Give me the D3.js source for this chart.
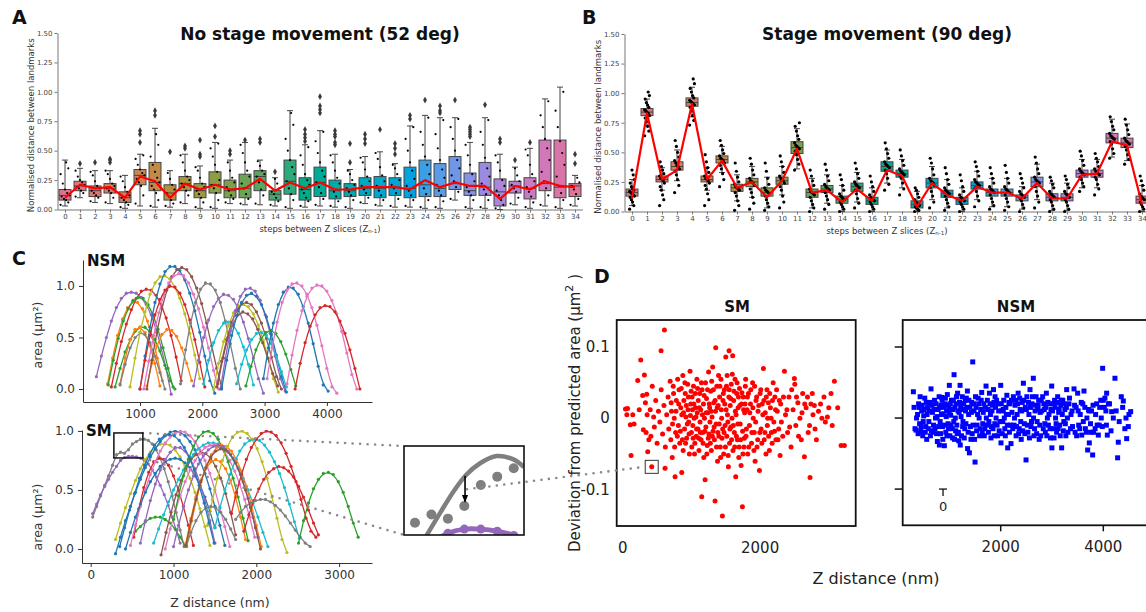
<!DOCTYPE html>
<html>
<head>
<meta charset="utf-8">
<script src="https://cdn.jsdelivr.net/npm/d3@7"></script>
<style>
  body { margin: 0; background: #fff; }
  svg { display: block; }
  text { font-family: "DejaVu Sans", sans-serif; }
</style>
</head>
<body>
<svg width="1146" height="612"></svg>
<script>
// ---------------- data ----------------
const steps = ['0','1','2','3','4','5','6','7','8','9','10','11','12','13','14','15','16','17',
  '18','19','20','21','22','23','24','25','26','27','28','29','30','31','32','33','34']
const yTicksAB = [0, 0.25, 0.5, 0.75, 1, 1.25, 1.5]

// A: [low whisker, q1, median, q3, high whisker]
const boxesA = [
  [.03,.08,.12,.17,.42],[.10,.16,.20,.24,.35],[.06,.11,.16,.20,.33],[.05,.14,.18,.22,.33],
  [.01,.06,.10,.15,.29],[.03,.21,.29,.34,.47],[.02,.16,.23,.40,.69],[.02,.08,.14,.21,.33],
  [.05,.16,.22,.28,.47],[.01,.10,.16,.22,.37],[.01,.14,.21,.32,.57],[.05,.10,.16,.25,.42],
  [.04,.10,.18,.30,.57],[.04,.16,.28,.33,.42],[.03,.08,.13,.16,.27],[.01,.13,.24,.42,.84],
  [.02,.08,.17,.27,.55],[.03,.11,.23,.36,.67],[.02,.09,.16,.25,.47],[.01,.11,.16,.22,.34],
  [.05,.12,.18,.27,.45],[.03,.10,.18,.28,.49],[.02,.12,.19,.27,.39],[.02,.10,.18,.36,.71],
  [.01,.11,.21,.42,.80],[.01,.11,.18,.39,.78],[.08,.17,.22,.45,.78],[.01,.12,.16,.31,.57],
  [.01,.12,.19,.40,.78],[.00,.03,.15,.26,.47],[.04,.14,.20,.24,.36],[.01,.09,.18,.27,.52],
  [.03,.16,.22,.59,.94],[.01,.10,.19,.59,1.04],[.03,.11,.20,.22,.29]
]
const meansA = [.10,.21,.18,.19,.10,.28,.24,.10,.22,.17,.21,.17,.18,.26,.16,.23,.18,.23,.17,.17,
  .19,.19,.19,.17,.25,.19,.23,.20,.20,.09,.20,.17,.24,.20,.19]
const fliersA = [[],[.39],[.40],[.43,.42,.40],[],[.67,.64,.57],[.84,.80],[.49],[.54,.52],[.59,.47,.45],
  [.71,.62],[.50,.47],[.59],[.60,.57],[.32],[],[.68,.64,.61,.58],[.96,.88,.85,.82],[.67,.64,.62,.57,.55],
  [.56,.40],[.64,.60,.56],[.68],[.56,.52,.47],[.80,.77],[.93],[.88,.84,.82],[.93],[.70,.68,.66,.64,.62],
  [.89],[.60,.57],[.42],[.57],[],[],[.47,.39]]
// A: individual measurements, x100
const stripA = [
  [4,6,8,9,11,12,14,17,22,30,35,40],[11,14,16,18,19,21,23,25,28,33],[7,10,12,14,16,18,20,24,29,32],
  [6,10,14,16,18,20,22,26,30,33],[2,4,6,8,10,12,15,19,24,28],[5,12,20,23,26,29,31,34,38,43,46],
  [3,8,14,17,20,23,27,32,38,45,55,64],[3,5,8,11,14,17,21,26,31],[6,12,16,19,22,25,28,33,40,46],
  [2,6,10,13,16,19,22,27,33,36],[2,8,14,18,21,25,32,38,45,52,56],[6,9,12,16,19,23,27,33,40],
  [5,9,13,18,22,28,33,40,48,55],[5,12,17,23,28,30,33,37,41],[4,7,10,13,15,18,22,26],
  [2,8,13,18,24,30,36,42,50,60,72,82],[3,7,10,14,17,21,25,30,38,46,53],[4,9,14,19,23,28,33,40,48,58,66],
  [3,7,11,15,18,22,27,33,40,46],[2,8,12,15,18,21,25,30,33],[6,10,14,17,20,24,28,34,40,44],
  [4,8,12,16,20,24,29,36,43,48],[3,9,14,18,21,25,30,35,38],[3,8,12,16,20,26,33,40,50,60,70],
  [2,8,13,18,23,30,38,45,55,66,78],[2,7,12,16,21,27,34,42,52,64,76],[9,15,19,24,29,35,42,50,60,70,77],
  [2,8,12,15,19,24,30,38,46,55],[2,8,13,17,22,28,35,44,55,66,76],[1,4,8,12,16,20,25,33,40,46],
  [5,10,15,18,21,24,29,35],[2,6,11,15,19,24,30,38,46,51],[4,12,18,24,32,42,52,60,70,80,92],
  [2,8,14,20,28,38,48,58,70,84,100],[4,9,13,17,20,23,27]
]

// B
const boxesB = [
  [.05,.13,.16,.19,.27],[.73,.81,.84,.87,.95],[.18,.25,.27,.30,.37],[.26,.35,.38,.42,.52],
  [.80,.89,.92,.96,1.05],[.18,.25,.27,.30,.37],[.33,.41,.44,.47,.55],[.09,.17,.20,.23,.31],
  [.12,.21,.25,.28,.38],[.03,.13,.16,.20,.29],[.14,.23,.26,.29,.38],[.36,.49,.54,.59,.70],
  [.03,.12,.16,.19,.28],[.07,.16,.19,.22,.31],[.00,.07,.10,.13,.22],[.08,.17,.21,.24,.33],
  [.00,.06,.09,.12,.20],[.24,.34,.38,.42,.52],[.20,.29,.32,.35,.44],[.00,.03,.06,.09,.17],
  [.10,.20,.24,.28,.38],[.03,.12,.15,.18,.27],[.00,.06,.09,.12,.20],[.10,.19,.22,.25,.34],
  [.04,.13,.16,.19,.28],[.04,.13,.16,.19,.28],[.02,.09,.12,.14,.21],[.10,.21,.25,.29,.40],
  [.01,.09,.12,.15,.24],[.01,.09,.12,.15,.24],[.20,.29,.32,.35,.44],[.20,.29,.32,.35,.44],
  [.46,.58,.62,.66,.78],[.43,.54,.58,.62,.74],[.00,.07,.10,.13,.22]
]
const meansB = [.11,.83,.27,.35,.91,.27,.43,.20,.25,.12,.26,.53,.16,.18,.08,.19,.09,.35,.30,.04,
  .24,.14,.09,.21,.16,.16,.11,.24,.11,.11,.31,.32,.59,.56,.06]
const stripB = [
  [2,5,8,10,12,13,14,15,16,17,18,19,21,24,27,31,35],[64,68,72,76,79,81,83,84,85,86,88,90,92,95,98,101],
  [5,10,14,18,21,24,26,27,28,30,32,35,38,42],[16,22,27,31,34,36,38,39,41,43,46,50,55,60],
  [73,77,81,85,88,90,91,92,93,94,96,98,101,104,108,112],[5,10,15,19,22,24,26,27,28,30,33,37,42,48],
  [21,27,32,36,39,41,43,44,45,47,49,52,56,60],[1,5,9,13,16,18,19,20,21,23,25,29,34,41],
  [2,7,12,16,19,22,24,25,26,28,31,35,40,45],[1,4,7,10,13,15,16,17,18,20,23,28,34,41],
  [3,8,13,18,21,24,26,27,28,30,33,38,42,47],[35,40,44,48,51,53,54,55,56,58,61,64,68,72,75],
  [0,3,6,9,12,14,15,16,17,19,22,26,30,35],[2,6,10,13,16,18,19,20,21,23,26,30,35,40],
  [0,2,4,6,8,10,11,12,13,15,18,22,27,31],[3,7,11,15,18,20,21,22,23,25,28,32,36,41],
  [0,2,4,6,8,9,10,11,12,14,17,21,25,30],[18,23,28,32,35,37,38,39,40,42,45,49,53,58],
  [14,19,24,28,30,31,32,33,34,36,39,43,47,52],[0,1,2,3,4,5,6,7,8,10,12,15,18,20],
  [3,8,13,17,20,22,24,25,26,28,31,36,41,45],[1,4,7,10,13,15,16,17,18,20,23,27,32,37],
  [0,2,4,6,8,9,10,11,12,14,17,21,26,31],[4,9,13,17,20,22,23,24,25,27,30,34,38,42],
  [2,5,8,11,14,16,17,18,19,21,24,28,32,37],[1,4,8,11,14,16,17,18,19,21,24,28,33,39],
  [0,3,6,9,11,12,13,14,15,17,20,24,28,32],[3,8,13,17,21,24,25,26,27,29,32,36,41,46],
  [0,2,5,8,10,12,13,14,15,17,20,23,26,29],[0,2,5,8,10,12,13,14,15,17,20,23,27,30],
  [17,21,24,27,29,31,32,33,34,36,39,43,47,51],[14,19,23,27,29,31,32,33,34,36,38,42,45,49],
  [45,49,53,57,59,61,62,63,64,66,69,72,76,80],[40,44,48,52,55,57,58,59,60,62,65,69,73,78],
  [0,2,4,6,8,10,11,12,13,15,18,22,26,30]
]

// C: [tab10 colour index, first z (nm), z step (nm), area x100]
const nsmCurves = [
  [4,300,80,[12,32,50,66,79,88,93,94,93,89,82,72,58,40,20,-5]],
  [1,480,80,[5,30,52,68,79,85,84,78,66,50,30,8]],
  [3,540,80,[2,25,46,63,77,88,95,97,96,91,82,69,52,31,8]],
  [2,490,80,[4,28,49,66,78,86,89,88,82,72,58,40,20,2]],
  [2,600,80,[2,20,36,48,56,60,60,56,48,37,23,8,0]],
  [1,680,80,[5,30,48,58,60,55,42,25,3]],
  [1,1110,80,[3,25,42,53,58,57,51,40,25,8]],
  [7,680,80,[4,24,40,50,55,53,45,32,16,0]],
  [8,840,80,[2,30,55,75,92,103,109,110,107,99,88,73,54,33,10]],
  [0,1000,80,[0,32,60,84,102,114,119,119,115,106,93,76,55,32,8,-4]],
  [5,1110,80,[0,28,55,78,96,109,116,118,116,109,98,83,64,42,20,2]],
  [6,1060,80,[0,27,52,74,91,103,110,112,110,103,92,78,60,40,18,0]],
  [3,1000,80,[0,28,52,72,87,96,100,99,93,82,67,48,26,2]],
  [7,1650,80,[5,38,64,84,97,103,102,96,84,66,44,20,0]],
  [4,1860,80,[3,28,50,67,80,88,92,91,87,78,65,49,30,10,-4]],
  [9,2020,80,[5,28,45,57,64,65,62,54,41,24,4]],
  [8,2180,80,[0,25,46,62,74,81,82,80,73,62,47,30,10,-3]],
  [5,2230,80,[2,27,48,65,76,83,84,82,75,64,49,31,12,0]],
  [5,2250,80,[5,30,50,63,72,75,73,68,58,45,30,15,3]],
  [4,2290,80,[0,30,56,76,90,97,98,95,86,72,54,32,10,-2]],
  [0,2310,80,[0,28,52,71,84,91,93,90,82,70,53,33,12,-3]],
  [9,2550,80,[5,24,38,48,54,55,52,44,32,17,2]],
  [2,2700,80,[3,22,38,49,55,57,54,46,34,19,3]],
  [0,2980,80,[10,40,64,82,94,99,98,92,80,64,44,22,4,-2]],
  [6,3040,80,[10,40,65,84,96,102,103,100,92,79,62,42,20,2,-4]],
  [6,3360,80,[5,33,57,76,90,98,101,100,95,86,73,56,35,14,0]],
  [3,3490,80,[0,25,45,61,72,79,81,80,75,66,54,38,20,0]]
]
const smCurves = [
  [7,24,48,[27,36,45,54,62,71,80,82,81,84,89,91,93,93,92,89,84,77,68,57,45,31,16,2]],
  [4,24,48,[30,38,46,53,59,65,70,75,77.5,78.5,78.5,78,77,75,72,67,61,54,46,37,27,16,5]],
  [2,540,60,[15,19,23,26,27,27,25,22,17,10,3]],
  [8,300,60,[8,22,35,47,58,68,76,82,86,89,89,88,84,78,70,60,48,34,19,3]],
  [0,300,60,[-4,10,24,36,48,59,69,78,85,91,96,99,100,99,96,91,84,75,64,51,36,20,3]],
  [3,520,60,[10,34,52,65,74,77,76,71,62,50,36,20,3]],
  [6,480,60,[3,20,36,50,63,74,83,90,95,98,100,99,96,91,84,75,64,50,35,19,2]],
  [0,420,60,[0,14,27,38,48,57,64,70,74,76,77,76,73,69,62,54,44,32,18]],
  [4,600,60,[5,24,41,55,67,76,82,86,86,83,77,68,56,41,24,5]],
  [9,760,60,[5,17,29,40,50,59,67,74,80,85,88,90,90,89,86,82,76,69,60,50,39,27,14,2]],
  [5,850,60,[-5,14,31,46,58,68,76,80,82,81,77,70,60,47,31,12]],
  [6,900,60,[0,17,32,45,57,67,75,81,86,88,88,86,82,75,66,55,42,27,10]],
  [2,1000,60,[25,45,62,76,87,95,99,100,98,93,85,74,60,44,26,7]],
  [1,1160,60,[2,24,43,59,71,80,86,88,87,83,76,66,53,38,20,2]],
  [1,1150,60,[5,26,44,58,68,74,76,74,68,58,44,27,8]],
  [8,1410,60,[20,42,60,75,87,95,99,100,98,93,85,74,60,44,26,8,-3]],
  [9,1500,60,[18,35,50,63,74,83,89,92,93,92,88,82,74,64,52,38,23,9]],
  [3,1700,60,[30,48,63,76,86,93,98,100,99,96,90,81,70,57,42,26,15,10]],
  [3,1850,60,[15,29,41,51,59,65,68,70,69,66,61,53,44,33,22,12]],
  [7,1750,60,[25,31,36,39,41,42,42,40,37,33,28,22,16,10,5,2]],
  [7,1150,60,[2,14,24,31,35,36,35,31,25,17,8]],
  [2,2510,60,[5,24,39,51,59,64,65,63,57,48,36,22,10]],
  [4,1000,60,[2,20,36,50,62,72,79,84,87,88,87,83,77,68,57,43,27,10]],
  [0,350,60,[2,18,33,47,60,71,80,88,93,96,97,96,92,86,78,67,54,39,22,5]],
  [5,1150,60,[3,24,42,57,69,78,83,85,84,80,73,63,50,35,18,0]]
]
const nsmZTicks = [1000, 2000, 3000, 4000]
const smZTicks = [0, 1000, 2000, 3000]
const areaTicks = [0, 0.5, 1]
// zoomed window of the SM plot (z nm, area) and what the inset shows
const zoomZ = [280, 630]
const zoomArea = [0.771, 0.983]
const insetFit = [[346,.770],[385,.823],[424,.874],[461,.914],[502,.942],[550,.959],[599,.951],[630,.933]]
const insetArrow = [458, 0.912, 0.850]

// D: [z nm, deviation um2]
const smDev = [
  [40,.013],[60,.005],[70,.014],[110,-.009],[121,-.052],[146,.005],[165,-.008],[218,.053],[262,.082],
  [240,.012],[290,.032],[300,-.016],[315,.061],[330,.022],[340,-.02],[349,.034],[355,.005],[364,-.047],
  [380,-.03],[400,.012],[410,-.025],[422,-.068],[430,.045],[450,.002],[460,-.012],[480,.025],[500,-.035],
  [520,.01],[540,-.005],[558,.095],[560,.04],[580,-.022],[600,.018],[607,.124],[616,-.07],[620,-.04],
  [640,.005],[660,.03],[670,-.015],[690,.052],[700,-.03],[710,.01],[720,-.055],[740,.035],[750,0],
  [762,-.082],[770,-.02],[780,.025],[800,.055],[810,-.01],[820,.04],[830,-.035],[845,.015],[859,-.076],
  [860,.005],[875,.06],[880,-.045],[890,.025],[900,-.015],[910,.035],[920,.002],[930,-.028],[945,.048],
  [950,.012],[960,-.005],[970,-.05],[980,.066],[990,.02],[1000,-.02],[1010,.03],[1020,-.01],[1030,.045],
  [1040,0],[1050,-.035],[1060,.015],[1070,-.025],[1080,.055],[1085,.008],[1095,-.015],[1100,.025],
  [1110,-.045],[1120,.035],[1125,-.005],[1135,.012],[1140,-.03],[1150,-.11],[1155,.04],[1165,-.02],
  [1175,.02],[1180,-.055],[1190,0],[1199,-.086],[1205,.05],[1210,-.012],[1220,.028],[1230,-.038],
  [1240,.008],[1250,.065],[1255,-.022],[1265,.015],[1270,-.005],[1280,.038],[1290,-.045],[1300,.002],
  [1310,.072],[1315,-.018],[1325,.022],[1335,-.03],[1344,-.116],[1350,.01],[1354,.099],[1360,-.008],
  [1370,.045],[1380,-.06],[1390,.018],[1400,-.025],[1410,.03],[1420,-.04],[1430,.055],[1440,0],
  [1451,-.137],[1455,-.015],[1460,.025],[1470,-.05],[1480,.04],[1490,-.01],[1500,.086],[1505,.012],
  [1515,-.025],[1520,.06],[1530,-.005],[1538,-.068],[1545,.03],[1548,.095],[1555,-.035],[1565,.018],
  [1575,-.012],[1580,.048],[1590,0],[1601,.088],[1605,-.045],[1615,.025],[1625,-.02],[1635,.055],
  [1645,-.082],[1650,.005],[1660,.035],[1670,-.03],[1680,.015],[1690,-.055],[1700,.042],[1710,-.008],
  [1723,-.066],[1730,.02],[1742,-.124],[1745,-.018],[1755,.03],[1765,-.04],[1775,.008],[1785,.045],
  [1795,-.025],[1810,.012],[1820,-.05],[1830,.035],[1845,-.01],[1860,.02],[1875,-.035],[1890,.05],
  [1900,0],[1915,-.02],[1927,-.06],[1940,.025],[1955,-.04],[1970,.01],[1990,-.073],[2000,.035],
  [2015,-.015],[2030,.02],[2048,.07],[2060,-.03],[2075,.008],[2090,.03],[2105,-.01],[2120,.022],
  [2135,-.045],[2150,.015],[2165,-.02],[2180,.025],[2200,-.005],[2215,.03],[2230,-.03],[2250,.01],
  [2270,-.015],[2291,-.052],[2300,.02],[2330,-.025],[2354,.066],[2370,.005],[2400,-.02],[2420,.03],
  [2450,-.04],[2480,.012],[2499,.056],[2505,.048],[2520,-.01],[2550,.022],[2580,0],[2600,-.03],
  [2620,.035],[2645,-.054],[2670,.015],[2700,-.02],[2727,-.083],[2740,.02],[2770,.005],[2800,-.015],
  [2850,.01],[2900,0],[2950,-.005],[3000,.015],[3033,.035],[3082,.052],[3130,.015],[3179,-.038],[3227,-.038],
  [705,.022],[725,-.008],[735,.045],[755,-.04],[775,.01],[795,-.025],[815,.02],[838,-.018],[852,.042],
  [868,-.03],[885,.008],[905,.05],[915,-.035],[925,.018],[940,-.008],[955,.03],[965,-.022],[985,.004],
  [995,.038],[1005,-.04],[1015,.012],[1025,-.028],[1035,.02],[1045,-.05],[1055,.035],[1065,.002],
  [1075,-.015],[1090,.042],[1105,-.028],[1115,.015],[1130,-.02],[1145,.05],[1160,.005],[1170,-.035],
  [1185,.032],[1195,-.018],[1215,.008],[1225,-.05],[1235,.04],[1245,-.028],[1260,.02],[1275,-.035],
  [1285,.01],[1295,.052],[1305,-.025],[1320,.04],[1330,-.012],[1345,.025],[1365,-.04],[1375,.015],
  [1385,-.02],[1395,.06],[1405,-.008],[1415,.045],[1425,-.055],[1435,.012],[1445,-.028],[1465,.035],
  [1475,-.02],[1485,.02],[1495,-.04],[1510,.045],[1525,.005],[1535,-.052],[1550,.04],[1560,-.015],
  [1570,.028],[1585,-.03],[1595,.062],[1610,-.01],[1620,.038],[1630,-.04],[1640,.01],[1655,-.025],
  [1665,.05],[1675,-.008],[1685,.03],[1695,-.04],[1705,.018],[1715,-.03],[1735,.036],[1750,-.05],
  [1760,.012],[1770,-.028],[1780,.02],[1790,.055],[1800,-.015],[1815,.03],[1835,-.04],[1850,.008],
  [1865,.04],[1880,-.02],[1895,.015],[1910,-.045],[1920,.045],[1935,-.005],[1950,.03],[1965,-.03],
  [1980,.018],[1995,-.02],[2010,.04],[2025,-.035],[2040,.005],[2055,.025],[2070,-.02],[2085,-.05],
  [2100,.04],[2110,0],[2125,-.025],[2140,.035],[2160,0],[2175,-.035],[2190,.05],[2210,-.018],
  [2225,.012],[2240,.04],[2260,-.03],[2280,.025],[2310,-.005],[2340,.03],[2390,.012],[2430,-.012],
  [2460,.04],[2530,.03],[2560,-.025],[2610,.008],[2650,.02],[2690,.03],[2720,-.01],[2760,.035],
  [2790,.018],[2820,-.03],[2880,.02],[2930,.03],[2980,.002],[3050,-.01]
]
const nsmDev = [
  [298,.037],[311,.015],[330,-.015],[350,-.017],[380,.005],[400,.02],[420,-.008],[441,-.019],[460,.01],
  [480,-.025],[500,.003],[520,.028],[540,-.012],[558,-.03],[575,.015],[600,-.005],[620,.022],[642,.041],
  [650,-.018],[670,.008],[690,-.01],[710,.025],[730,0],[750,-.022],[766,-.033],[780,.012],[800,.03],
  [805,-.038],[820,-.005],[835,.018],[850,.029],[865,-.012],[880,.006],[902,-.039],[915,.02],[930,-.02],
  [945,.01],[960,.033],[975,-.008],[990,.015],[999,.046],[1010,-.025],[1025,.004],[1040,.025],
  [1055,-.015],[1070,.012],[1091,.061],[1100,-.03],[1115,0],[1130,.02],[1145,-.01],[1160,.035],
  [1175,-.02],[1190,.008],[1208,.046],[1212,-.038],[1220,.015],[1235,-.025],[1250,.03],[1265,-.005],
  [1280,.02],[1300,-.015],[1315,.01],[1330,.028],[1351,.038],[1355,-.043],[1365,-.02],[1375,.005],
  [1390,-.049],[1400,.015],[1420,-.03],[1435,.022],[1455,.079],[1460,-.01],[1480,.01],[1500,-.062],
  [1510,.03],[1530,-.018],[1550,.005],[1570,.02],[1590,-.025],[1610,.012],[1630,.036],[1650,-.008],
  [1670,.02],[1690,-.015],[1714,.045],[1720,0],[1740,.025],[1760,-.02],[1780,.035],[1800,.005],
  [1820,-.012],[1840,.018],[1860,.04],[1875,-.025],[1890,.03],[1910,0],[1930,-.01],[1950,.02],
  [1970,-.018],[2000,.046],[2006,-.035],[2020,.01],[2040,-.005],[2060,.025],[2080,-.015],[2100,.015],
  [2120,.032],[2136,-.042],[2150,.005],[2170,-.02],[2180,.02],[2201,-.036],[2220,.008],[2247,.03],
  [2260,-.01],[2280,.018],[2300,-.025],[2320,.005],[2340,.035],[2360,-.015],[2380,.012],[2400,-.03],
  [2420,.022],[2442,.049],[2460,-.008],[2480,.015],[2494,-.059],[2510,.03],[2530,-.02],[2550,.005],
  [2571,.04],[2590,-.012],[2610,.02],[2636,.056],[2650,-.025],[2670,.01],[2690,.03],[2710,-.005],
  [2730,.018],[2750,-.03],[2770,.008],[2790,.025],[2818,.03],[2830,-.015],[2850,.012],[2870,-.02],
  [2890,.035],[2910,0],[2930,-.01],[2950,.02],[2970,-.028],[2994,.045],[2998,-.042],[3010,.01],
  [3030,-.015],[3050,.025],[3070,0],[3090,-.02],[3110,.03],[3130,.008],[3150,-.01],[3170,.018],
  [3188,-.042],[3210,.025],[3230,-.005],[3250,.012],[3270,-.025],[3286,.04],[3300,0],[3330,.02],
  [3360,-.015],[3390,.01],[3429,.041],[3450,-.02],[3470,.015],[3500,.035],[3520,-.01],[3550,.005],
  [3580,-.024],[3600,.02],[3623,.038],[3650,-.015],[3680,0],[3695,-.045],[3710,.012],[3727,-.035],
  [3750,-.008],[3770,.01],[3792,-.052],[3810,-.02],[3850,.005],[3880,-.01],[3903,-.024],[3930,.015],
  [3960,0],[3987,.07],[4000,.025],[4032,.028],[4050,.01],[4065,.035],[4078,-.024],[4100,.02],
  [4163,.009],[4195,0],[4227,.056],[4279,-.056],[4292,-.034],[4377,.015],[4390,.024],[4442,0],
  [4455,-.029],[4487,-.012],[4533,.009],
  [360,0],[390,-.022],[410,.015],[430,.03],[450,-.012],[470,.018],[490,-.005],[510,.012],[530,-.02],
  [550,.022],[565,.005],[590,-.015],[610,.01],[630,-.025],[660,.018],[680,-.02],[700,.012],[720,-.015],
  [740,.02],[760,.002],[790,-.012],[810,.015],[828,-.022],[845,.005],[858,.025],[872,-.03],[890,.015],
  [908,-.01],[922,.028],[938,.002],[952,-.025],[968,.018],[982,-.015],[995,.008],[1018,.02],[1032,-.01],
  [1048,.012],[1062,-.028],[1078,.025],[1085,-.005],[1108,.015],[1122,-.018],[1138,.03],[1152,-.022],
  [1168,.01],[1182,-.032],[1198,.022],[1228,.002],[1242,.02],[1258,-.012],[1272,.012],[1290,-.028],
  [1308,.025],[1322,-.008],[1340,.015],[1380,.025],[1410,-.012],[1428,.008],[1445,-.022],[1470,.02],
  [1490,-.03],[1520,.015],[1540,-.01],[1560,.028],[1580,0],[1600,-.015],[1620,.025],[1640,-.02],
  [1660,.008],[1680,-.025],[1700,.015],[1730,-.01],[1750,.012],[1770,-.005],[1790,.02],[1810,-.028],
  [1830,.01],[1850,-.015],[1868,.022],[1885,-.008],[1900,.015],[1920,.025],[1940,-.025],[1960,.01],
  [1985,-.005],[2012,.02],[2030,-.022],[2050,.012],[2070,0],[2090,-.025],[2110,.005],[2130,-.01],
  [2160,.022],[2190,-.01],[2210,.025],[2235,-.015],[2270,0],[2290,.025],[2310,-.012],[2330,.02],
  [2350,-.022],[2370,.028],[2390,-.005],[2410,.01],[2430,-.018],[2450,.025],[2470,-.022],[2500,.012],
  [2520,-.01],[2540,.022],[2560,-.028],[2580,.015],[2600,-.005],[2620,.03],[2640,0],[2660,-.015],
  [2680,.018],[2700,-.022],[2720,.012],[2740,.025],[2760,-.01],[2780,-.025],[2800,.01],[2840,.02],
  [2860,-.008],[2880,.015],[2900,-.025],[2920,.022],[2940,.005],[2960,-.015],[2980,.012],[3020,.02],
  [3040,-.028],[3060,.015],[3080,-.008],[3100,.022],[3120,-.015],[3140,.012],[3160,-.025],[3180,.025],
  [3200,.005],[3220,-.018],[3240,.02],[3260,-.008],[3280,.015],[3310,-.02],[3340,.028],[3370,.005],
  [3400,-.012],[3440,.018],[3480,-.025],[3510,.01],[3540,-.015],[3570,.022],[3610,-.005],[3640,.015],
  [3670,-.02],[3720,.01],[3760,-.02],[3800,.018],[3840,-.015],[3870,.02],[3920,-.01],[3950,.025],
  [3980,-.012],[4020,.015],[4060,-.01],[4120,.02],[4150,-.018],[4250,.01],[4310,-.005],[4350,.03],
  [4420,-.015],[4500,.005]
]
const devTicks = [-0.1, 0, 0.1]
const smDevZTicks = [0, 2000]
const nsmDevZTicks = [2000, 4000]
const boxedPoint = [422, -0.068]

// ---------------- drawing ----------------
const svg = d3.select('svg')
const tab10 = d3.schemeCategory10
const boxColour = i => d3.hcl(8 + i * 360 / 35, 46, 62).formatHex()

svg.append('defs').append('marker')
  .attr('id', 'arrow').attr('viewBox', '0 0 10 10').attr('refX', 9).attr('refY', 5)
  .attr('markerWidth', 5).attr('markerHeight', 5).attr('orient', 'auto')
  .append('path').attr('d', 'M0,1 L10,5 L0,9 z').attr('fill', '#000')

function panelLetter(t, x, y) {
  svg.append('text').attr('x', x).attr('y', y).text(t)
    .attr('font-family', 'Lato').attr('font-weight', 700).attr('font-size', 19).attr('fill', '#111')
}

// A / B
function boxPanel(o) {
  const x = d3.scalePoint().domain(steps).range([o.left, o.right]).padding(0.5)
  const bw = x.step() * 0.8
  const y = d3.scaleLinear().domain([0, 1.5]).range([o.bottom, o.top])
  const g = svg.append('g')

  const ax = g.append('g').attr('transform', `translate(0,${o.bottom})`)
    .call(d3.axisBottom(x).tickSize(3).tickSizeOuter(0).tickPadding(1.5))
  const ay = g.append('g').attr('transform', `translate(${o.left},0)`)
    .call(d3.axisLeft(y).tickValues(yTicksAB).tickFormat(d3.format('.2f'))
      .tickSize(3).tickSizeOuter(0).tickPadding(2))
  ;[ax, ay].forEach(a => {
    a.attr('font-size', 7).attr('font-family', 'DejaVu Sans')
    a.selectAll('text').attr('fill', '#444')
    a.selectAll('path, line').attr('stroke', '#777')
  })

  const rows = o.boxes.map((b, i) => ({ i, b, cx: x(steps[i]) }))
  const box = g.selectAll(null).data(rows).enter().append('g')
  box.append('line').attr('x1', d => d.cx).attr('x2', d => d.cx)
    .attr('y1', d => y(d.b[0])).attr('y2', d => y(d.b[4])).attr('stroke', '#444').attr('stroke-width', 1)
  box.selectAll(null).data(d => [[d.cx, d.b[0]], [d.cx, d.b[4]]]).enter().append('line')
    .attr('x1', d => d[0] - bw / 4).attr('x2', d => d[0] + bw / 4)
    .attr('y1', d => y(d[1])).attr('y2', d => y(d[1])).attr('stroke', '#444')
  box.append('rect')
    .attr('x', d => d.cx - bw / 2).attr('width', bw)
    .attr('y', d => y(d.b[3])).attr('height', d => y(d.b[1]) - y(d.b[3]))
    .attr('fill', d => boxColour(d.i)).attr('stroke', '#444').attr('stroke-width', 1)
  box.append('line').attr('x1', d => d.cx - bw / 2).attr('x2', d => d.cx + bw / 2)
    .attr('y1', d => y(d.b[2])).attr('y2', d => y(d.b[2])).attr('stroke', '#444')

  if (o.fliers) {
    const fl = o.fliers.flatMap((f, i) => f.map(v => ({ cx: x(steps[i]), v })))
    g.selectAll(null).data(fl).enter().append('path')
      .attr('d', d3.symbol(d3.symbolDiamond, 13))
      .attr('transform', d => `translate(${d.cx},${y(d.v)})`).attr('fill', '#3a3a3a')
  }

  const pts = o.strip.flatMap((s, i) => s.map((v, k) => ({ cx: x(steps[i]), v: v / 100, k })))
  g.selectAll(null).data(pts).enter().append('circle')
    .attr('cx', d => d.cx + ((d.k * 7) % 9 - 4) * o.jitter)
    .attr('cy', d => y(d.v)).attr('r', o.dotR).attr('fill', '#000')

  g.append('path').datum(o.means)
    .attr('d', d3.line().x((d, i) => x(steps[i])).y(d => y(d)))
    .attr('fill', 'none').attr('stroke', '#ff0000').attr('stroke-width', 2.2).attr('stroke-linejoin', 'round')

  const mid = (o.left + o.right) / 2
  g.append('text').attr('x', mid).attr('y', 40).attr('text-anchor', 'middle')
    .attr('font-family', 'Lato').attr('font-weight', 700).attr('font-size', 17).attr('fill', '#111').text(o.title)
  g.append('text').attr('transform', `translate(${o.left - 24},${(o.top + o.bottom) / 2 + 4}) rotate(-90)`)
    .attr('text-anchor', 'middle').attr('font-size', 8.5).attr('fill', '#333')
    .text('Normalised distance between landmarks')
  const xt = g.append('text').attr('x', mid).attr('y', o.bottom + 22).attr('text-anchor', 'middle')
    .attr('font-size', 8.5).attr('fill', '#333')
  xt.append('tspan').text('steps between Z slices (Z')
  xt.append('tspan').attr('font-size', 5.5).attr('dy', 1.5).text('n-1')
  xt.append('tspan').attr('dy', -1.5).text(')')
}

panelLetter('A', 12, 24)
boxPanel({ boxes: boxesA, means: meansA, fliers: fliersA, strip: stripA,
  left: 57.5, right: 582.5, top: 33, bottom: 209.5, title: 'No stage movement (52 deg)', jitter: 1.1, dotR: 1.1 })
panelLetter('B', 582, 24)
boxPanel({ boxes: boxesB, means: meansB, fliers: null, strip: stripB,
  left: 624.5, right: 1149.5, top: 34, bottom: 211.5, title: 'Stage movement (90 deg)', jitter: 0.6, dotR: 1.6 })

// C
function curvePanel(o) {
  const x = d3.scaleLinear().domain(o.zDomain).range([o.left, o.right])
  const y = d3.scaleLinear().domain(o.aDomain).range([o.bottom, o.top])
  const g = svg.append('g')
  const ax = g.append('g').attr('transform', `translate(0,${o.bottom})`)
    .call(d3.axisBottom(x).tickValues(o.zTicks).tickFormat(d3.format('d')).tickSize(4).tickSizeOuter(0).tickPadding(3))
  const ay = g.append('g').attr('transform', `translate(${o.left},0)`)
    .call(d3.axisLeft(y).tickValues(areaTicks).tickFormat(d3.format('.1f')).tickSize(4).tickSizeOuter(0).tickPadding(4))
  ;[ax, ay].forEach(a => {
    a.attr('font-size', 12).attr('font-family', 'DejaVu Sans')
    a.selectAll('text').attr('fill', '#333')
    a.selectAll('path, line').attr('stroke', '#333')
  })
  g.append('text').attr('transform', `translate(42,${o.labelY}) rotate(-90)`).attr('text-anchor', 'middle')
    .attr('font-size', 12.5).attr('fill', '#333').text('area (\u03bcm\u00b2)')
  g.append('text').attr('x', o.left + 4).attr('y', o.top + 6).text(o.name)
    .attr('font-family', 'Lato').attr('font-weight', 700).attr('font-size', 15).attr('fill', '#111')

  const cid = 'clip' + o.name
  svg.append('clipPath').attr('id', cid).append('rect')
    .attr('x', o.left).attr('y', o.top).attr('width', o.right - o.left).attr('height', o.bottom - o.top)
  const plot = g.append('g').attr('clip-path', `url(#${cid})`)
  const series = o.curves.map(([c, z0, dz, ys]) => ({ c, pts: ys.map((v, k) => [z0 + k * dz, v / 100]) }))
  const line = d3.line().x(d => x(d[0])).y(d => y(d[1])).curve(d3.curveBasis)
  const s = plot.selectAll(null).data(series).enter().append('g')
  s.append('path').attr('d', d => line(d.pts)).attr('fill', 'none')
    .attr('stroke', d => tab10[d.c]).attr('stroke-width', 1.3)
  s.selectAll(null).data(d => d.pts.map(p => [p, d.c])).enter().append('circle')
    .attr('cx', d => x(d[0][0])).attr('cy', d => y(d[0][1])).attr('r', 1.6).attr('fill', d => tab10[d[1]])
  return { x, y, g }
}

panelLetter('C', 12, 265)
curvePanel({ name: 'NSM', curves: nsmCurves, zTicks: nsmZTicks, zDomain: [85, 4724], aDomain: [-0.126, 1.252],
  left: 83, right: 372, top: 260, bottom: 402, labelY: 335 })
const sm = curvePanel({ name: 'SM', curves: smCurves, zTicks: smZTicks, zDomain: [-105, 3397], aDomain: [-0.119, 1.008],
  left: 82, right: 372, top: 430, bottom: 563, labelY: 517 })
svg.append('text').attr('x', 220).attr('y', 607).attr('text-anchor', 'middle')
  .attr('font-size', 12.5).attr('fill', '#333').text('Z distance (nm)')

// D
function devPanel(o) {
  const x = d3.scaleLinear().domain(o.zDomain).range([o.left, o.right])
  const y = d3.scaleLinear().domain([-0.151, 0.138]).range([o.bottom, o.top])
  const g = svg.append('g')
  g.append('text').attr('x', o.titleX).attr('y', o.top - 8)
    .attr('text-anchor', 'middle').attr('font-family', 'Lato').attr('font-weight', 700)
    .attr('font-size', 15).attr('fill', '#111').text(o.name)
  const pts = g.append('g')
  if (o.square) {
    pts.selectAll(null).data(o.data).enter().append('rect')
      .attr('x', d => x(d[0]) - 2.5).attr('y', d => y(d[1]) - 2.5).attr('width', 5).attr('height', 5)
      .attr('fill', '#0000ff')
  } else {
    pts.selectAll(null).data(o.data).enter().append('circle')
      .attr('cx', d => x(d[0])).attr('cy', d => y(d[1])).attr('r', 2.5).attr('fill', '#ff0000')
  }
  g.append('rect').attr('x', o.left).attr('y', o.top).attr('width', o.right - o.left).attr('height', o.bottom - o.top)
    .attr('fill', 'none').attr('stroke', '#111').attr('stroke-width', 1.8)
  g.selectAll(null).data(o.zTicks).enter().append('text')
    .attr('x', d => x(d)).attr('y', o.bottom + 27).attr('text-anchor', 'middle')
    .attr('font-family', 'Lato').attr('font-size', 15).attr('fill', '#222').text(d => d)
  if (o.yLabels) {
    g.selectAll(null).data(devTicks).enter().append('text')
      .attr('x', o.left - 7).attr('y', d => y(d) + 5).attr('text-anchor', 'end')
      .attr('font-family', 'Lato').attr('font-size', 15).attr('fill', '#222').text(d => String(d))
  } else {
    g.selectAll(null).data(devTicks).enter().append('line')
      .attr('x1', o.left - 8).attr('x2', o.left).attr('y1', d => y(d)).attr('y2', d => y(d)).attr('stroke', '#111').attr('stroke-width', 1.5)
    g.selectAll(null).data(o.zTicks).enter().append('line')
      .attr('x1', d => x(d)).attr('x2', d => x(d)).attr('y1', o.bottom).attr('y2', o.bottom + 6).attr('stroke', '#111').attr('stroke-width', 1.5)
  }
  return { x, y, g }
}

panelLetter('D', 594, 283)
const dSM = devPanel({ name: 'SM', data: smDev, zDomain: [-88, 3392], zTicks: smDevZTicks, titleX: 737,
  left: 616.7, right: 855.7, top: 320, bottom: 526, yLabels: true, square: false })
const dNSM = devPanel({ name: 'NSM', data: nsmDev, zDomain: [90, 4871], zTicks: nsmDevZTicks, titleX: 1016,
  left: 902.7, right: 1148, top: 320, bottom: 525.3, yLabels: false, square: true })

// stray "0" tick inside the NSM panel
{
  const zx = dNSM.x(876), zy = dNSM.y(-0.1)
  svg.append('line').attr('x1', zx - 4).attr('x2', zx + 4).attr('y1', zy).attr('y2', zy).attr('stroke', '#111').attr('stroke-width', 1.3)
  svg.append('line').attr('x1', zx).attr('x2', zx).attr('y1', zy).attr('y2', zy + 7).attr('stroke', '#111').attr('stroke-width', 1.3)
  svg.append('text').attr('x', zx).attr('y', zy + 22).attr('text-anchor', 'middle')
    .attr('font-family', 'Lato').attr('font-size', 13).attr('fill', '#222').text('0')
}

const dyl = svg.append('text').attr('transform', 'translate(580,413) rotate(-90)').attr('text-anchor', 'middle')
  .attr('font-family', 'Lato').attr('font-size', 15).attr('fill', '#222')
dyl.append('tspan').text('Deviation from predicted area (\u03bcm')
dyl.append('tspan').attr('font-size', 11).attr('dy', -7).text('2')
dyl.append('tspan').attr('dy', 7).text(' )')
svg.append('text').attr('x', 876).attr('y', 584).attr('text-anchor', 'middle')
  .attr('font-family', 'Lato').attr('font-size', 16).attr('fill', '#222').text('Z distance (nm)')

// boxed point in D SM
const bx = dSM.x(boxedPoint[0]), by = dSM.y(boxedPoint[1])
svg.append('rect').attr('x', bx - 6.5).attr('y', by - 6.5).attr('width', 13).attr('height', 13)
  .attr('fill', 'none').attr('stroke', '#333').attr('stroke-width', 1)

// zoom rectangle, connectors and inset
const rx0 = sm.x(zoomZ[0]), rx1 = sm.x(zoomZ[1]), ry0 = sm.y(zoomArea[1]), ry1 = sm.y(zoomArea[0])
const inset = { x0: 404, x1: 524, y0: 446, y1: 535 }
const dotted = (a, b) => svg.append('line').attr('x1', a[0]).attr('y1', a[1]).attr('x2', b[0]).attr('y2', b[1])
  .attr('stroke', '#8a8a8a').attr('stroke-width', 2.6).attr('stroke-dasharray', '0 7.5').attr('stroke-linecap', 'round')
dotted([rx1, ry0], [inset.x0, inset.y0])
dotted([rx1, ry1], [inset.x0, inset.y1])
svg.append('rect').attr('x', rx0).attr('y', ry0).attr('width', rx1 - rx0).attr('height', ry1 - ry0)
  .attr('fill', 'none').attr('stroke', '#111').attr('stroke-width', 1.5)

const ix = d3.scaleLinear().domain(zoomZ).range([inset.x0, inset.x1])
const iy = d3.scaleLinear().domain(zoomArea).range([inset.y1, inset.y0])
svg.append('clipPath').attr('id', 'clipInset').append('rect')
  .attr('x', inset.x0).attr('y', inset.y0).attr('width', inset.x1 - inset.x0).attr('height', inset.y1 - inset.y0)
svg.append('rect').attr('x', inset.x0).attr('y', inset.y0).attr('width', inset.x1 - inset.x0)
  .attr('height', inset.y1 - inset.y0).attr('fill', '#fff')
const ig = svg.append('g').attr('clip-path', 'url(#clipInset)')
const iline = d3.line().x(d => ix(d[0])).y(d => iy(d[1])).curve(d3.curveCatmullRom)
const insetSeries = smCurves.slice(0, 2).map(([c, z0, dz, ys]) => ({ c, pts: ys.map((v, k) => [z0 + k * dz, v / 100]) }))
ig.append('path').attr('d', iline(insetSeries[1].pts)).attr('fill', 'none')
  .attr('stroke', tab10[4]).attr('stroke-width', 5)
ig.selectAll(null).data(insetSeries[1].pts).enter().append('circle')
  .attr('cx', d => ix(d[0])).attr('cy', d => iy(d[1])).attr('r', 4.5).attr('fill', tab10[4])
ig.append('path').attr('d', iline(insetFit)).attr('fill', 'none')
  .attr('stroke', '#7f7f7f').attr('stroke-width', 4.5)
ig.selectAll(null).data(insetSeries[0].pts).enter().append('circle')
  .attr('cx', d => ix(d[0])).attr('cy', d => iy(d[1])).attr('r', 5).attr('fill', '#7f7f7f')
ig.append('line').attr('x1', ix(insetArrow[0])).attr('x2', ix(insetArrow[0]))
  .attr('y1', iy(insetArrow[1])).attr('y2', iy(insetArrow[2]))
  .attr('stroke', '#000').attr('stroke-width', 1.6).attr('marker-end', 'url(#arrow)')
svg.append('rect').attr('x', inset.x0).attr('y', inset.y0).attr('width', inset.x1 - inset.x0)
  .attr('height', inset.y1 - inset.y0).attr('fill', 'none').attr('stroke', '#111').attr('stroke-width', 1.6)
dotted([ix(insetArrow[0]) + 2, iy(0.88)], [bx - 7, by])
</script>
</body>
</html>
